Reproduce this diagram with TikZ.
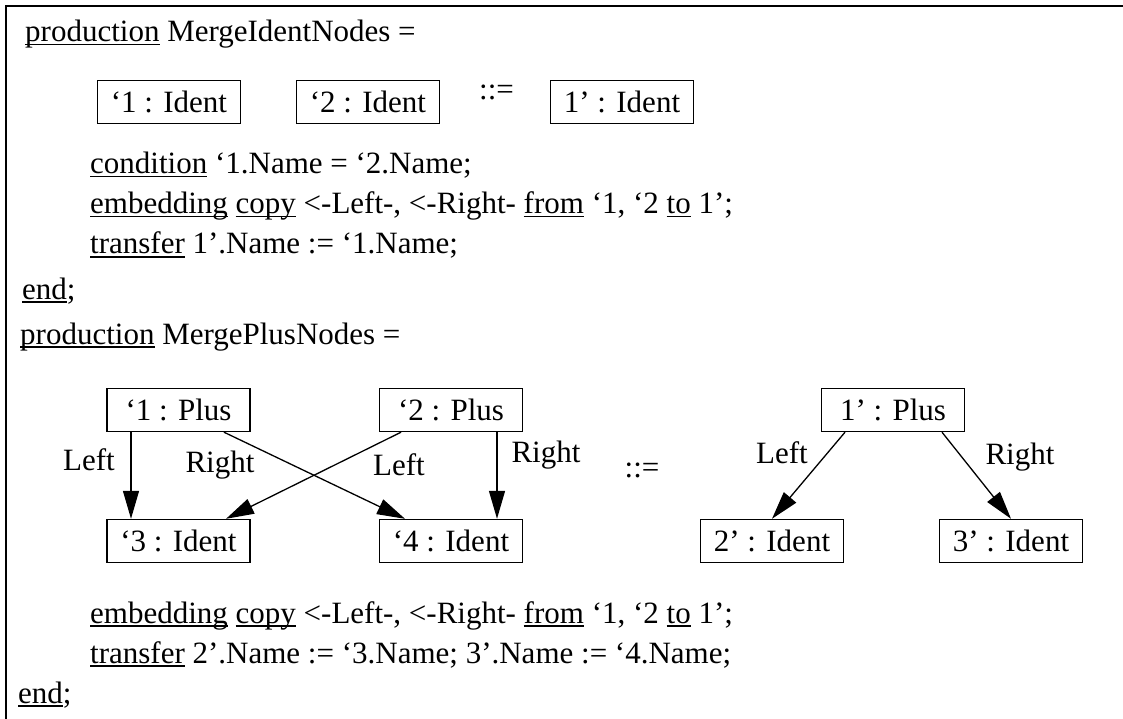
\documentclass[tikz,border=0pt]{standalone}
\usepackage{fontspec}
\setmainfont{Liberation Serif}
\usetikzlibrary{arrows.meta}
% keyword with an underline that sits just under the baseline
\newsavebox\kwbox
\newcommand\kw[1]{\sbox\kwbox{#1}\rlap{\rule[-3.5pt]{\wd\kwbox}{1.5pt}}\usebox\kwbox}
\begin{document}
\begin{tikzpicture}[x=1pt,y=-1pt,
  every node/.style={font=\fontsize{31}{37}\selectfont, inner sep=0pt},
  txt/.style={anchor=base west},
  lbl/.style={anchor=center},
  gbox/.style={draw, line width=1.4pt, minimum width=143pt, minimum height=43pt, anchor=center},
  frame/.style={line width=2pt},
  arr/.style={line width=1.3pt, -{Triangle[length=28pt,width=16pt]}}]
\useasboundingbox (0,0) rectangle (1123,719);
\draw[frame] (1123,6) -- (6,6) -- (6,719);

% ---- first production ----
\node[txt] (p1) at (25,42) {\kw{production} MergeIdentNodes =};
\node[gbox] (i1) at (169,102) {`1 : Ident};
\node[gbox] (i2) at (368,102) {`2 : Ident};
\node[txt] (r1) at (479,100) {::=};
\node[gbox] (i3) at (622,102) {1' : Ident};
\node[txt] (cond) at (90,174) {\kw{condition} `1.Name = `2.Name;};
\node[txt] (emb1) at (90,214) {\kw{embedding} \kw{copy} <-Left-, <-Right- \kw{from} `1, `2 \kw{to} 1';};
\node[txt] (tr1) at (90,254) {\kw{transfer} 1'.Name := `1.Name;};
\node[txt] (end1) at (22,299) {\kw{end};};

% ---- second production ----
\node[txt] (p2) at (20,344) {\kw{production} MergePlusNodes =};
\node[gbox] (b1) at (178.5,410) {`1 : Plus};
\node[gbox] (b2) at (451,410) {`2 : Plus};
\node[gbox] (b3) at (178.5,541) {`3 : Ident};
\node[gbox] (b4) at (451,541) {`4 : Ident};
\node[gbox] (c1) at (893,410) {1' : Plus};
\node[gbox] (c2) at (772,541) {2' : Ident};
\node[gbox] (c3) at (1011,541) {3' : Ident};
\node[lbl] (r2) at (642,470) {::=};

\draw[arr] ([xshift=-47.5pt]b1.south) -- ([xshift=-47.5pt]b3.north);
\draw[arr] ([xshift=45.5pt]b1.south) -- ([xshift=-46pt]b4.north);
\draw[arr] ([xshift=-50pt]b2.south) -- ([xshift=47.5pt]b3.north);
\draw[arr] ([xshift=46pt]b2.south) -- ([xshift=46pt]b4.north);
\draw[arr] ([xshift=-48pt]c1.south) -- (c2.north);
\draw[arr] ([xshift=49pt]c1.south) -- (c3.north);

\node[lbl] (l1) at (89,460) {Left};
\node[lbl] (l2) at (220,465) {Right};
\node[lbl] (l3) at (399,465) {Left};
\node[lbl] (l4) at (546,455) {Right};
\node[lbl] (l5) at (782,453) {Left};
\node[lbl] (l6) at (1020,457) {Right};

\node[txt] (emb2) at (90,623) {\kw{embedding} \kw{copy} <-Left-, <-Right- \kw{from} `1, `2 \kw{to} 1';};
\node[txt] (tr2) at (90,663) {\kw{transfer} 2'.Name := `3.Name; 3'.Name := `4.Name;};
\node[txt] (end2) at (18,703) {\kw{end};};
\end{tikzpicture}
\end{document}
